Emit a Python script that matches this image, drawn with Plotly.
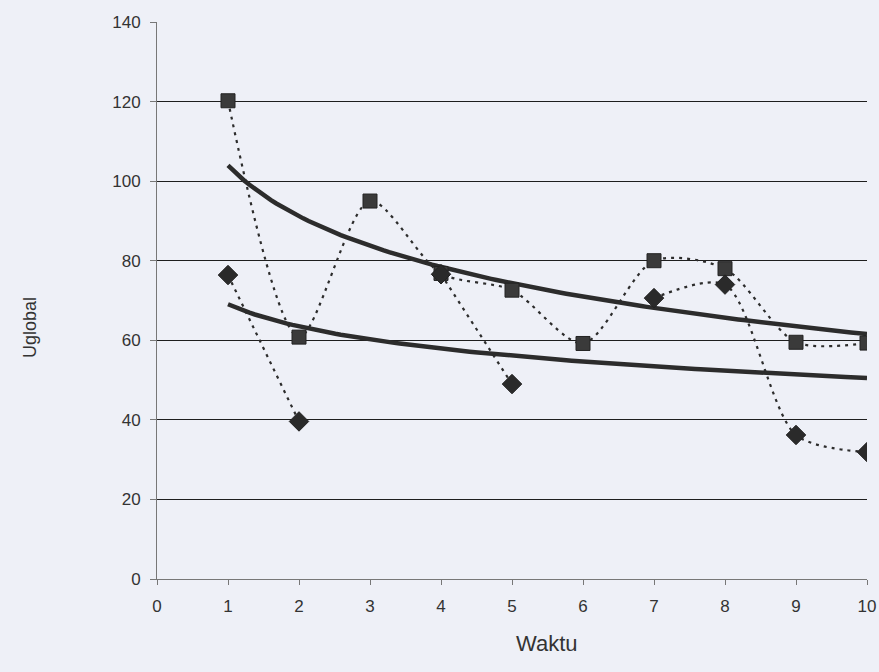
import numpy as np
import plotly.graph_objects as go

# Data
waktu = [1, 2, 3, 4, 5, 6, 7, 8, 9, 10]
seri_kotak = [120.2, 60.8, 95.0, 76.8, 72.6, 59.2, 80.0, 78.0, 59.5, 59.3]
seri_belah_ketupat = [76.4, 39.6, None, 76.6, 49.0, None, 70.6, 74.0, 36.2, 31.9]
y_ticks = [0, 20, 40, 60, 80, 100, 120, 140]
x_ticks = [0, 1, 2, 3, 4, 5, 6, 7, 8, 9, 10]

INK = "#2c2c2c"
BG = "#eef0f7"


def log_trend(xs, ys):
    pts = [(x, y) for x, y in zip(xs, ys) if y is not None]
    lx = np.log([p[0] for p in pts])
    yy = np.array([p[1] for p in pts])
    b, a = np.polyfit(lx, yy, 1)
    xf = np.linspace(min(xs), max(xs), 120)
    return xf, a + b * np.log(xf)


fig = go.Figure()

for ys in (seri_kotak, seri_belah_ketupat):
    xf, yf = log_trend(waktu, ys)
    fig.add_trace(go.Scatter(x=xf, y=yf, mode="lines",
                             line=dict(color=INK, width=4.5),
                             showlegend=False, hoverinfo="skip"))

fig.add_trace(go.Scatter(
    x=waktu, y=seri_kotak, mode="lines+markers",
    line=dict(color=INK, width=2.2, dash="3px,5px", shape="spline", smoothing=0.8),
    marker=dict(symbol="square", size=14, color="#3a3a3a",
                line=dict(color="#222", width=1)),
    showlegend=False))

fig.add_trace(go.Scatter(
    x=waktu, y=seri_belah_ketupat, mode="lines+markers", connectgaps=False,
    line=dict(color=INK, width=2.2, dash="3px,5px", shape="spline", smoothing=0.8),
    marker=dict(symbol="diamond", size=15, color="#2a2a2a",
                line=dict(color="#222", width=1)),
    showlegend=False))

L, R, T, B = 157, 12, 22, 93
W, H = 879, 672
pw = W - L - R
ph = H - T - B

fig.update_layout(
    width=W, height=H,
    margin=dict(l=L, r=R, t=T, b=B, autoexpand=False),
    paper_bgcolor=BG, plot_bgcolor=BG,
    font=dict(family="Liberation Sans, Arial, sans-serif", size=17, color="#333"),
    xaxis=dict(range=[0, 10], tickvals=x_ticks, showgrid=False, zeroline=False,
               automargin=False, ticklabelstandoff=7,
               showline=True, linecolor="#777", linewidth=1,
               ticks="outside", ticklen=5, tickcolor="#777"),
    yaxis=dict(range=[0, 140], tickvals=y_ticks, showgrid=True,
               automargin=False, ticklabelstandoff=6,
               gridcolor="#1e1e1e", gridwidth=1.3, zeroline=False,
               showline=True, linecolor="#777", linewidth=1,
               ticks="outside", ticklen=6, tickcolor="#777"),
    annotations=[
        dict(text="Waktu", xref="paper", yref="paper",
             x=(547 - L) / pw, y=-(658 - (H - B)) / ph,
             showarrow=False, font=dict(size=22, color="#333")),
        dict(text="Uglobal", textangle=-90, xref="paper", yref="paper",
             x=-(L - 18) / pw, y=((H - B) - 328) / ph,
             showarrow=False, font=dict(size=18, color="#333")),
    ],
)

fig.write_html(
    "out.html",
    config={"displayModeBar": False},
    post_script="document.body.style.margin='0';document.body.style.background='#eef0f7';",
)
